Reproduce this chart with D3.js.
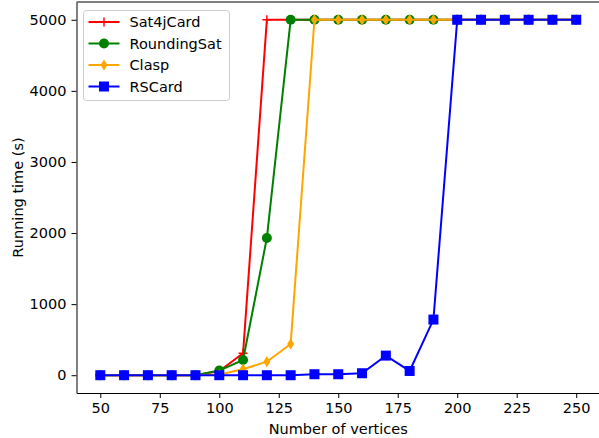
<!DOCTYPE html>
<html>
<head>
<meta charset="utf-8">
<script src="https://cdn.jsdelivr.net/npm/d3@7"></script>
<style>
  body { margin: 0; background: #fff; }
  text { font-family: "DejaVu Sans", sans-serif; fill: #000; }
</style>
</head>
<body>
<div id="chart"></div>
<script>
// Running time vs number of vertices, four solvers
const vertices = [50, 60, 70, 80, 90, 100, 110, 120, 130, 140, 150, 160, 170, 180, 190, 200, 210, 220, 230, 240, 250];
const sat4jCard   = [0, 0, 0, 0, 0, 60, 310, 5000, 5000, 5000, 5000, 5000, 5000, 5000, 5000, 5000, 5000, 5000, 5000, 5000, 5000];
const roundingSat = [0, 0, 0, 0, 0, 65, 215, 1930, 5000, 5000, 5000, 5000, 5000, 5000, 5000, 5000, 5000, 5000, 5000, 5000, 5000];
const clasp       = [0, 0, 0, 0, 0, 10, 85, 190, 440, 5000, 5000, 5000, 5000, 5000, 5000, 5000, 5000, 5000, 5000, 5000, 5000];
const rsCard      = [0, 0, 0, 0, 0, 0, 0, 0, 0, 14, 14, 28, 276, 60, 783, 5000, 5000, 5000, 5000, 5000, 5000];
const xTicks = [50, 75, 100, 125, 150, 175, 200, 225, 250];
const yTicks = [0, 1000, 2000, 3000, 4000, 5000];

const series = [
    { name: "Sat4jCard", values: sat4jCard, color: "red", marker: "plus" },
    { name: "RoundingSat", values: roundingSat, color: "green", marker: "circle" },
    { name: "Clasp", values: clasp, color: "orange", marker: "diamond" },
    { name: "RSCard", values: rsCard, color: "blue", marker: "square" }
];

const W = 599, H = 438;
const m = { top: 2, right: -1, bottom: 45, left: 76.5 };
const w = W - m.left - m.right;
const h = H - m.top - m.bottom;
const fs = "14.5px";

const svg = d3.select("#chart").append("svg").attr("width", W).attr("height", H);
const g = svg.append("g").attr("transform", `translate(${m.left},${m.top})`);

const x = d3.scaleLinear().domain([40, 260]).range([0, w]);
const y = d3.scaleLinear().domain([-250, 5250]).range([h, 0]);

const drawMarker = (sel, type, color) => {
    if (type === "plus") {
        sel.append("path").attr("d", "M-4.5,0H4.5M0,-4.5V4.5").attr("stroke", color).attr("stroke-width", 1.4).attr("fill", "none");
    } else if (type === "circle") {
        sel.append("circle").attr("r", 5).attr("fill", color);
    } else if (type === "diamond") {
        sel.append("path").attr("d", "M0,-5.6L3.5,0L0,5.6L-3.5,0Z").attr("fill", color);
    } else {
        sel.append("rect").attr("x", -5).attr("y", -5).attr("width", 10).attr("height", 10).attr("fill", color);
    }
};

const line = d3.line().x(d => x(d[0])).y(d => y(d[1]));

series.forEach(s => {
    const pts = vertices.map((v, i) => [v, s.values[i]]);
    g.append("path").datum(pts).attr("d", line)
        .attr("fill", "none").attr("stroke", s.color).attr("stroke-width", 2);
    g.selectAll(null).data(pts).join("g")
        .attr("transform", d => `translate(${x(d[0])},${y(d[1])})`)
        .each(function () { drawMarker(d3.select(this), s.marker, s.color); });
});

// axes
const xAxis = g.append("g").attr("transform", `translate(0,${h})`)
    .call(d3.axisBottom(x).tickValues(xTicks).tickFormat(d3.format("d")).tickSizeInner(5).tickSizeOuter(0).tickPadding(5));
const yAxis = g.append("g")
    .call(d3.axisLeft(y).tickValues(yTicks).tickFormat(d3.format("d")).tickSizeInner(5).tickSizeOuter(0).tickPadding(5));
[xAxis, yAxis].forEach(a => {
    a.selectAll("text").style("font-size", fs).style("font-family", "DejaVu Sans");
    a.selectAll("line, path").attr("stroke", "#000").attr("stroke-width", 1);
});
g.append("line").attr("x1", 0).attr("x2", w).attr("y1", 0).attr("y2", 0).attr("stroke", "#000");

g.append("text").attr("x", x(150)).attr("y", h + 41).attr("text-anchor", "middle")
    .style("font-size", fs).text("Number of vertices");
g.append("text").attr("transform", `translate(${-m.left + 23},${h / 2}) rotate(-90)`)
    .attr("text-anchor", "middle").style("font-size", fs).text("Running time (s)");

// legend
const lg = svg.append("g").attr("transform", "translate(83.5,10.5)");
lg.append("rect").attr("width", 146).attr("height", 90).attr("rx", 3)
    .attr("fill", "#fff").attr("fill-opacity", 0.8).attr("stroke", "#ccc");
series.forEach((s, i) => {
    const row = lg.append("g").attr("transform", `translate(0,${11.5 + i * 21.5})`);
    row.append("line").attr("x1", 5).attr("x2", 36).attr("stroke", s.color).attr("stroke-width", 2);
    drawMarker(row.append("g").attr("transform", "translate(20.5,0)"), s.marker, s.color);
    row.append("text").attr("x", 46).attr("y", 5).style("font-size", fs).text(s.name);
});
</script>
</body>
</html>
